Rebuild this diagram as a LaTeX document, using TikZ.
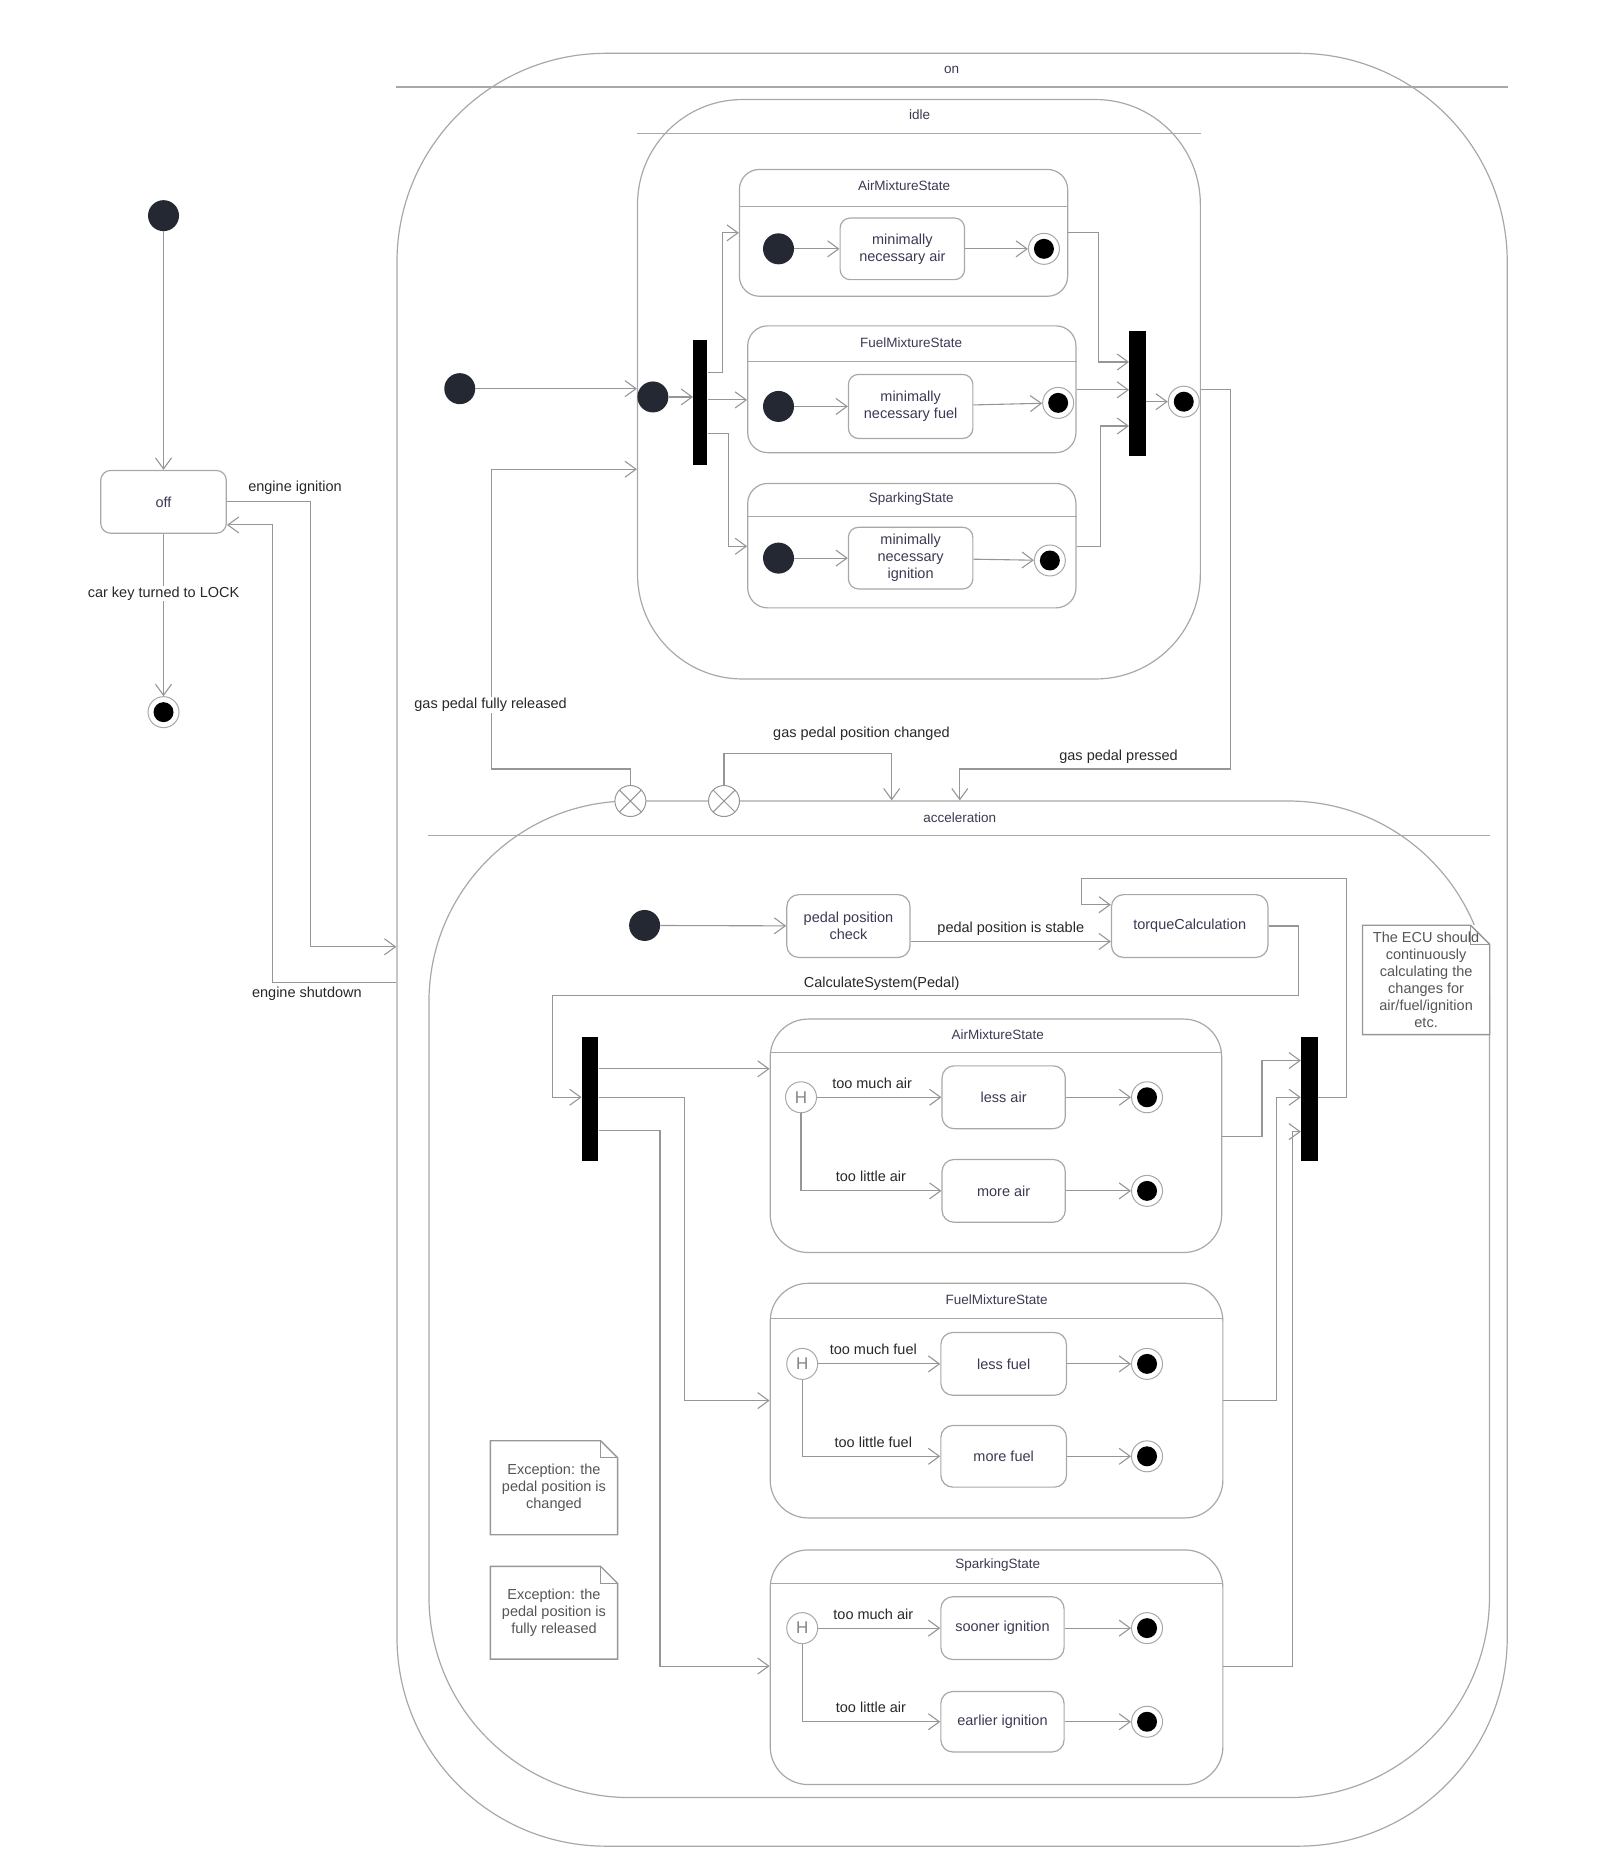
\documentclass[tikz,border=0pt]{standalone}
\usepackage{fontspec}
\setmainfont{Liberation Sans}
\usetikzlibrary{arrows.meta}

\definecolor{wirec}{RGB}{150,150,150}
\definecolor{borderc}{RGB}{168,168,168}
\definecolor{dotc}{RGB}{36,40,50}
\definecolor{statetxt}{RGB}{58,58,84}
\definecolor{trtxt}{RGB}{40,40,40}
\definecolor{notetxt}{RGB}{85,85,85}

\begin{document}
\begin{tikzpicture}[x=1.1854pt, y=-1.1854pt,
  every node/.style={font=\fontsize{14.5}{17}\selectfont},
  sz/.style 2 args={minimum width=#1*1.1854pt, minimum height=#2*1.1854pt},
  wire/.style={draw=wirec, line width=1.1pt},
  tr/.style={wire, -{Straight Barb[length=11pt,width=16pt,line width=1.1pt]}},
  stbox/.style={draw=borderc, line width=1.2pt, inner sep=0pt, align=center, text=statetxt, rounded corners=10pt},
  bigstate/.style={draw=borderc, line width=1.2pt, inner sep=0pt, rounded corners=#1},
  header/.style={draw=borderc, line width=1.2pt},
  slabel/.style={text=statetxt, inner sep=0pt, font=\fontsize{13.5}{16}\selectfont},
  initdot/.style={circle, fill=dotc, minimum size=31pt, inner sep=0pt},
  finalst/.style={circle, draw=borderc, fill=white, line width=1pt, minimum size=31pt, inner sep=0pt,
     path picture={\fill[black] (path picture bounding box.center) circle (10pt);}},
  hist/.style={circle, draw=borderc, fill=white, line width=1pt, minimum size=31pt, inner sep=0pt,
     text=borderc!80!black, font=\fontsize{17}{17}\selectfont},
  exitpt/.style={circle, draw=wirec, fill=white, line width=1pt, minimum size=31pt, inner sep=0pt,
     path picture={\draw[wirec, line width=1pt]
       (path picture bounding box.north west) -- (path picture bounding box.south east)
       (path picture bounding box.north east) -- (path picture bounding box.south west);}},
  bar/.style={fill=black, inner sep=0pt},
  lab/.style={text=trtxt, inner sep=1pt},
  labw/.style={lab, fill=white},
  notetext/.style={inner sep=0pt, align=center, text=notetxt, fill=white},
  notebd/.style={draw=borderc!90!black, line width=1.4pt},
]
\useasboundingbox (0,0) rectangle (1354,1568);

% ---------- top level ----------
\node[initdot] (init0) at (138,182) {};
\node[stbox, sz={106}{53}] (off) at (138,423.5) {off};
\node[finalst] (fin0) at (138,601) {};

\node[bigstate=209pt, sz={937}{1513}] (on) at (803.5,801.5) {};
\draw[header] (on.west |- 0,73.5) -- (on.east |- 0,73.5);
\node[slabel] (onlbl) at (803,59) {on};

\draw[tr] (init0) -- (off);
\draw[tr] (off) -- (fin0);
\draw[tr] (off.east) -- (262,423.5) -- (262,799) -- (on.west |- 0,799);
\draw[tr] (on.west |- 0,829) -- (230,829) -- (230,443) -- (off.east |- 0,443);
\node[labw] (lKey) at (138,501) {car key turned to LOCK};
\node[lab] (lIgn) at (249,412) {engine ignition};
\node[lab] (lShut) at (259,839) {engine shutdown};

% ---------- idle ----------
\node[bigstate=105pt, sz={475}{489}] (idle) at (775.5,328.5) {};
\draw[header] (idle.west |- 0,113) -- (idle.east |- 0,113);
\node[slabel] (idlelbl) at (776,97) {idle};

\node[initdot] (init1) at (388,328) {};
\node[initdot] (init2) at (551,335) {};
\node[bar, sz={12}{105}] (fork1) at (591,339.5) {};
\node[bar, sz={14}{106}] (join1) at (960,332) {};
\node[finalst] (finI) at (999,339) {};

% AirMixtureState (idle)
\node[stbox, rounded corners=20pt, sz={277}{107}] (air1) at (762.5,196.5) {};
\draw[header] (air1.west |- 0,174) -- (air1.east |- 0,174);
\node[slabel] (air1lbl) at (763,157) {AirMixtureState};
\node[initdot] (airI) at (657,210) {};
\node[stbox, sz={105}{52}] (airbox) at (761.5,210) {minimally\\necessary air};
\node[finalst] (airF) at (881,210) {};
\draw[tr] (airI) -- (airbox);
\draw[tr] (airbox) -- (airF);

% FuelMixtureState (idle)
\node[stbox, rounded corners=20pt, sz={277}{107}] (fuel1) at (769.5,328.5) {};
\draw[header] (fuel1.west |- 0,305) -- (fuel1.east |- 0,305);
\node[slabel] (fuel1lbl) at (769,289) {FuelMixtureState};
\node[initdot] (fuelI) at (657,343) {};
\node[stbox, sz={105}{54}] (fuelbox) at (768.5,343) {minimally\\necessary fuel};
\node[finalst] (fuelF) at (893,340) {};
\draw[tr] (fuelI) -- (fuelbox);
\draw[tr] (fuelbox) -- (fuelF);

% SparkingState (idle)
\node[stbox, rounded corners=20pt, sz={277}{105}] (spark1) at (769.5,460.5) {};
\draw[header] (spark1.west |- 0,436) -- (spark1.east |- 0,436);
\node[slabel] (spark1lbl) at (769,421) {SparkingState};
\node[initdot] (sparkI) at (657,471) {};
\node[stbox, sz={105}{52}] (sparkbox) at (768.5,471) {minimally\\necessary\\ignition};
\node[finalst] (sparkF) at (886,473) {};
\draw[tr] (sparkI) -- (sparkbox);
\draw[tr] (sparkbox) -- (sparkF);

\draw[tr] (init1) -- (idle.west |- init1);
\draw[tr] (init2) -- (fork1.west |- init2);
\draw[tr] (fork1.east |- 0,314) -- (610,314) -- (610,196.5) -- (air1.west |- 0,196.5);
\draw[tr] (fork1.east |- 0,337.5) -- (fuel1.west |- 0,337.5);
\draw[tr] (fork1.east |- 0,366) -- (615,366) -- (615,461) -- (spark1.west |- 0,461);
\draw[tr] (air1.east |- 0,196.5) -- (927,196.5) -- (927,305.5) -- (join1.west |- 0,305.5);
\draw[tr] (fuel1.east |- 0,329) -- (join1.west |- 0,329);
\draw[tr] (spark1.east |- 0,461) -- (929,461) -- (929,359.5) -- (join1.west |- 0,359.5);
\draw[tr] (join1.east |- finI) -- (finI);

% ---------- acceleration ----------
\node[bigstate=201pt, sz={895}{841}] (accel) at (809.5,1096.5) {};
\draw[header] (accel.west |- 0,705) -- (accel.east |- 0,705);
\node[slabel] (accellbl) at (810,690) {acceleration};
\node[exitpt] (exit1) at (532,676) {};
\node[exitpt] (exit2) at (611,676) {};

\draw[tr] (exit1) -- (532,649) -- (415,649) -- (415,396) -- (idle.west |- 0,396);
\draw[tr] (exit2) -- (611,636) -- (752.5,636) -- (accel.north -| 752.5,0);
\draw[tr] (idle.east |- 0,329) -- (1038.5,329) -- (1038.5,649) -- (810,649) -- (accel.north -| 810,0);
\node[labw] (lRel) at (414,595) {gas pedal fully released};
\node[lab] (lChg) at (727,619) {gas pedal position changed};
\node[lab] (lPrs) at (944,639) {gas pedal pressed};

\node[initdot] (init3) at (544,781) {};
\node[stbox, rounded corners=12pt, sz={104}{53}] (pcheck) at (716,781.5) {pedal position\\check};
\node[stbox, rounded corners=12pt, sz={132}{53}] (torque) at (1004,781.5) {torqueCalculation};
\node[bar, sz={14}{105}] (fork2) at (498,927.5) {};
\node[bar, sz={14}{105}] (join2) at (1105,927.5) {};

\draw[tr] (init3) -- (pcheck);
\draw[tr] (pcheck.east |- 0,794.5) -- (torque.west |- 0,794.5);
\node[lab] (lStable) at (853,783.5) {pedal position is stable};
\draw[tr] (join2.east |- 0,926) -- (1136,926) -- (1136,741.5) -- (913,741.5) -- (913,763.5) -- (torque.west |- 0,763.5);
\draw[tr] (torque.east) -- (1096,781.5) -- (1096,840) -- (466,840) -- (466,926) -- (fork2.west |- 0,926);
\node[lab] (lCalc) at (744,830) {CalculateSystem(Pedal)};

% AirMixtureState (acceleration)
\node[stbox, rounded corners=38pt, sz={381}{197}] (air2) at (840.5,958.5) {};
\draw[header] (air2.west |- 0,888) -- (air2.east |- 0,888);
\node[slabel] (air2lbl) at (842,873) {AirMixtureState};
\node[hist] (H1) at (676,926) {H};
\node[stbox, rounded corners=12pt, sz={104}{53}] (lessair) at (847,926) {less air};
\node[stbox, rounded corners=12pt, sz={104}{53}] (moreair) at (847,1005) {more air};
\node[finalst] (fA1) at (968,926) {};
\node[finalst] (fA2) at (968,1005) {};
\draw[tr] (H1) -- (lessair);
\draw[tr] (H1) |- (moreair);
\draw[tr] (lessair) -- (fA1);
\draw[tr] (moreair) -- (fA2);
\node[lab] (lMuchA) at (736,914) {too much air};
\node[lab] (lLittleA) at (735,993) {too little air};

% FuelMixtureState (acceleration)
\node[stbox, rounded corners=38pt, sz={382}{198}] (fuel2) at (841,1182) {};
\draw[header] (fuel2.west |- 0,1113) -- (fuel2.east |- 0,1113);
\node[slabel] (fuel2lbl) at (841,1097) {FuelMixtureState};
\node[hist] (H2) at (677,1151) {H};
\node[stbox, rounded corners=12pt, sz={106}{53}] (lessfuel) at (847,1151) {less fuel};
\node[stbox, rounded corners=12pt, sz={106}{52}] (morefuel) at (847,1229) {more fuel};
\node[finalst] (fF1) at (968,1151) {};
\node[finalst] (fF2) at (968,1229) {};
\draw[tr] (H2) -- (lessfuel);
\draw[tr] (H2) |- (morefuel);
\draw[tr] (lessfuel) -- (fF1);
\draw[tr] (morefuel) -- (fF2);
\node[lab] (lMuchF) at (737,1139) {too much fuel};
\node[lab] (lLittleF) at (737,1217) {too little fuel};

% SparkingState (acceleration)
\node[stbox, rounded corners=38pt, sz={382}{198}] (spark2) at (841,1407) {};
\draw[header] (spark2.west |- 0,1336) -- (spark2.east |- 0,1336);
\node[slabel] (spark2lbl) at (842,1321) {SparkingState};
\node[hist] (H3) at (677,1374) {H};
\node[stbox, rounded corners=12pt, sz={104}{53}] (sooner) at (846,1374) {sooner ignition};
\node[stbox, rounded corners=12pt, sz={104}{51}] (earlier) at (846,1453) {earlier ignition};
\node[finalst] (fS1) at (968,1374) {};
\node[finalst] (fS2) at (968,1453) {};
\draw[tr] (H3) -- (sooner);
\draw[tr] (H3) |- (earlier);
\draw[tr] (sooner) -- (fS1);
\draw[tr] (earlier) -- (fS2);
\node[lab] (lMuchS) at (737,1362) {too much air};
\node[lab] (lLittleS) at (735,1441) {too little air};

% fork / join wiring
\draw[tr] (fork2.east |- 0,902) -- (air2.west |- 0,902);
\draw[tr] (fork2.east |- 0,926) -- (578,926) -- (578,1182) -- (fuel2.west);
\draw[tr] (fork2.east |- 0,954) -- (557,954) -- (557,1406) -- (spark2.west |- 0,1406);
\draw[tr] (air2.east |- 0,959) -- (1065,959) -- (1065,895) -- (join2.west |- 0,895);
\draw[tr] (fuel2.east) -- (1077,1182) -- (1077,926) -- (join2.west |- 0,926);
\draw[tr] (spark2.east |- 0,1406) -- (1091,1406) -- (1091,955) -- (join2.west |- 0,955);

% ---------- notes ----------
\node[notetext, sz={107}{92}] (noteE) at (1203.5,827)
  {The ECU should\\continuously\\calculating the\\changes for\\air/fuel/ignition\\etc.};
\draw[notebd] (noteE.north west) -- ([xshift=-19pt]noteE.north east) -- ([yshift=-19pt]noteE.north east)
  -- (noteE.south east) -- (noteE.south west) -- cycle;
\draw[notebd] ([xshift=-19pt]noteE.north east) |- ([yshift=-19pt]noteE.north east);

\node[notetext, sz={107}{79}] (note1) at (467.5,1255.5) {Exception: the\\pedal position is\\changed};
\draw[notebd] (note1.north west) -- ([xshift=-17pt]note1.north east) -- ([yshift=-17pt]note1.north east)
  -- (note1.south east) -- (note1.south west) -- cycle;
\draw[notebd] ([xshift=-17pt]note1.north east) |- ([yshift=-17pt]note1.north east);

\node[notetext, sz={107}{78}] (note2) at (467.5,1361) {Exception: the\\pedal position is\\fully released};
\draw[notebd] (note2.north west) -- ([xshift=-17pt]note2.north east) -- ([yshift=-17pt]note2.north east)
  -- (note2.south east) -- (note2.south west) -- cycle;
\draw[notebd] ([xshift=-17pt]note2.north east) |- ([yshift=-17pt]note2.north east);
\end{tikzpicture}
\end{document}
